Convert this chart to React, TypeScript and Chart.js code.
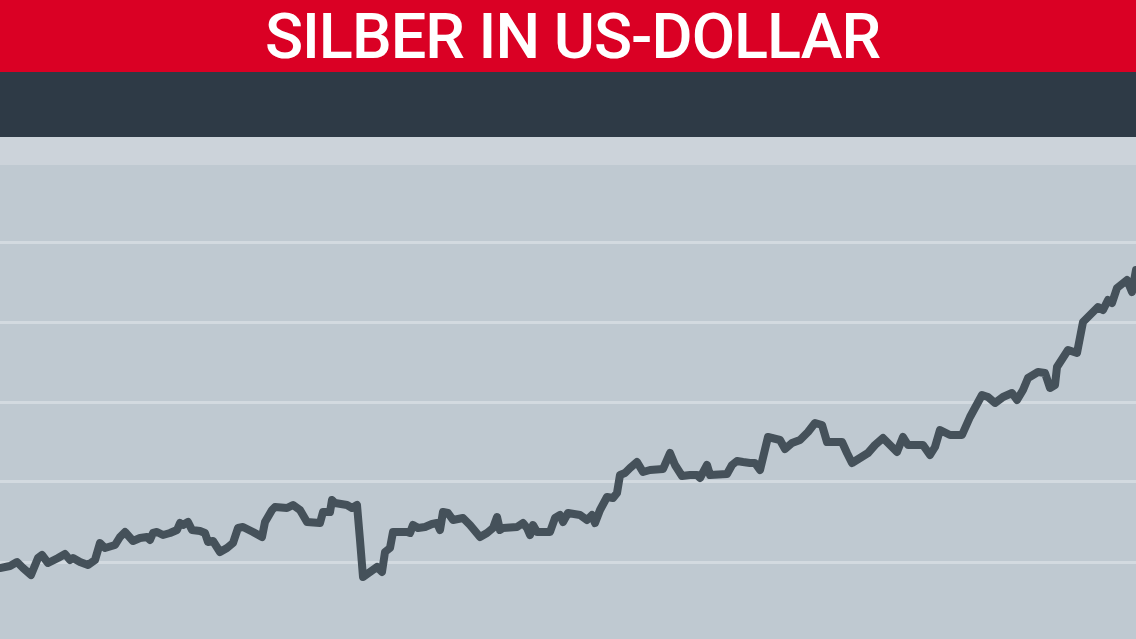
import React, { useEffect, useRef } from "react";
import { Chart, registerables } from "chart.js";

Chart.register(...registerables);

const TITLE = "SILBER IN US-DOLLAR";

// days since start of the period
const days: number[] = [
  0, 10, 17, 23, 31, 38, 42, 48, 58, 65, 70, 73, 80, 88, 95, 100, 105, 115, 120, 125,
  133, 140, 147, 150, 153, 157, 163, 170, 177, 180, 183, 188, 192, 200, 205, 208, 213, 220, 227, 233,
  238, 243, 253, 262, 265, 272, 275, 287, 293, 300, 307, 320, 323, 330, 332, 335, 347, 352, 357, 360,
  363, 370, 377, 382, 385, 390, 393, 407, 410, 413, 418, 425, 432, 437, 440, 443, 448, 453, 463, 470,
  480, 487, 493, 497, 500, 503, 517, 523, 527, 530, 533, 537, 550, 555, 560, 563, 568, 580, 587, 592,
  595, 600, 607, 613, 617, 620, 625, 630, 637, 643, 650, 663, 670, 675, 682, 690, 697, 700, 707, 710,
  727, 732, 737, 743, 750, 755, 760, 768, 780, 785, 792, 800, 808, 815, 822, 827, 842, 847, 852, 860,
  868, 875, 883, 897, 903, 908, 923, 930, 935, 940, 950, 962, 970, 982, 988, 995, 1003, 1012, 1017, 1023,
  1028, 1038, 1045, 1050, 1055, 1057, 1068, 1077, 1083, 1092, 1098, 1103, 1108, 1112, 1117, 1127, 1132, 1136,
];

// silver price in US dollars
const prices: number[] = [
  19.7, 19.8, 20.0, 19.7, 19.35, 20.2, 20.35, 19.95, 20.2, 20.4, 20.1, 20.2, 20.0, 19.85, 20.1, 20.95, 20.7, 20.85, 21.25, 21.5,
  21.05, 21.2, 21.25, 21.1, 21.45, 21.5, 21.35, 21.45, 21.6, 21.95, 21.85, 22.0, 21.6, 21.55, 21.45, 21.0, 21.05, 20.5, 20.7, 20.95,
  21.7, 21.75, 21.5, 21.25, 22.0, 22.6, 22.75, 22.7, 22.85, 22.6, 22.0, 21.95, 22.5, 22.5, 23.1, 22.95, 22.85, 22.7, 22.85, 21.1,
  19.25, 19.5, 19.75, 19.5, 20.5, 20.7, 21.5, 21.5, 21.45, 21.85, 21.7, 21.75, 21.9, 21.95, 21.6, 22.5, 22.45, 22.1, 22.2, 21.85,
  21.25, 21.45, 21.7, 22.25, 21.6, 21.7, 21.75, 21.95, 21.7, 21.35, 21.85, 21.5, 21.5, 22.2, 22.35, 22.0, 22.45, 22.35, 22.1, 22.35,
  21.95, 22.6, 23.25, 23.2, 23.45, 24.35, 24.45, 24.7, 25.0, 24.5, 24.6, 24.65, 25.45, 24.85, 24.3, 24.35, 24.35, 24.2, 24.85, 24.35,
  24.4, 24.85, 25.05, 25.0, 24.95, 24.95, 24.6, 26.25, 26.1, 25.65, 25.95, 26.1, 26.5, 26.95, 26.85, 26.0, 26.0, 25.45, 24.95, 25.2,
  25.45, 25.85, 26.2, 25.5, 26.25, 25.85, 25.85, 25.35, 25.75, 26.6, 26.35, 26.35, 27.25, 28.35, 28.25, 27.95, 28.25, 28.45, 28.1, 28.6,
  29.2, 29.5, 29.45, 28.7, 28.85, 29.75, 30.6, 30.45, 32.0, 32.45, 32.75, 32.6, 33.1, 32.95, 33.7, 34.1, 33.5, 34.6,
];

const gridValues: number[] = [20, 24, 28, 32, 36];

const SilverChart: React.FC = () => {
  const ref = useRef<HTMLCanvasElement | null>(null);
  useEffect(() => {
    if (!ref.current) return;
    const chart = new Chart(ref.current, {
      type: "line",
      data: {
        datasets: [
          {
            data: days.map((d, i) => ({ x: d, y: prices[i] })),
            borderColor: "#45515a",
            borderWidth: 8,
            pointRadius: 0,
            tension: 0,
            borderJoinStyle: "round",
            borderCapStyle: "round",
            fill: false,
          },
        ],
      },
      options: {
        animation: false,
        responsive: true,
        maintainAspectRatio: false,
        layout: { padding: 0 },
        plugins: { legend: { display: false }, tooltip: { enabled: false }, title: { display: false } },
        scales: {
          x: { type: "linear", min: 0, max: 1136, display: false },
          y: {
            type: "linear",
            min: 16.15,
            max: 39.85,
            afterBuildTicks: (axis: any) => {
              axis.ticks = gridValues.map((v) => ({ value: v }));
            },
            ticks: { display: false },
            border: { display: false },
            grid: { color: "#d3dae0", lineWidth: 3, drawTicks: false, tickLength: 0 },
          },
        },
      },
    });
    return () => chart.destroy();
  }, []);
  return <canvas ref={ref} />;
};

export default function App() {
  return (
    <div style={{ position: "fixed", left: 0, top: 0, width: 1136, height: 639, overflow: "hidden", background: "#bfc9d1" }}>
      <div
        style={{
          height: 72,
          background: "#da0024",
          color: "#ffffff",
          display: "flex",
          alignItems: "center",
          justifyContent: "center",
          fontFamily: "Roboto, 'DejaVu Sans', sans-serif",
          fontWeight: 500,
          fontSize: 63,
          letterSpacing: -1,
          lineHeight: "72px",
          paddingTop: 1,
          paddingLeft: 9,
          boxSizing: "border-box",
        }}
      >
        {TITLE}
      </div>
      <div style={{ height: 65, background: "#2e3a46" }} />
      <div style={{ height: 28, background: "#ccd3da" }} />
      <div style={{ position: "relative", width: 1136, height: 474, background: "#bfc9d1" }}>
        <SilverChart />
      </div>
    </div>
  );
}
